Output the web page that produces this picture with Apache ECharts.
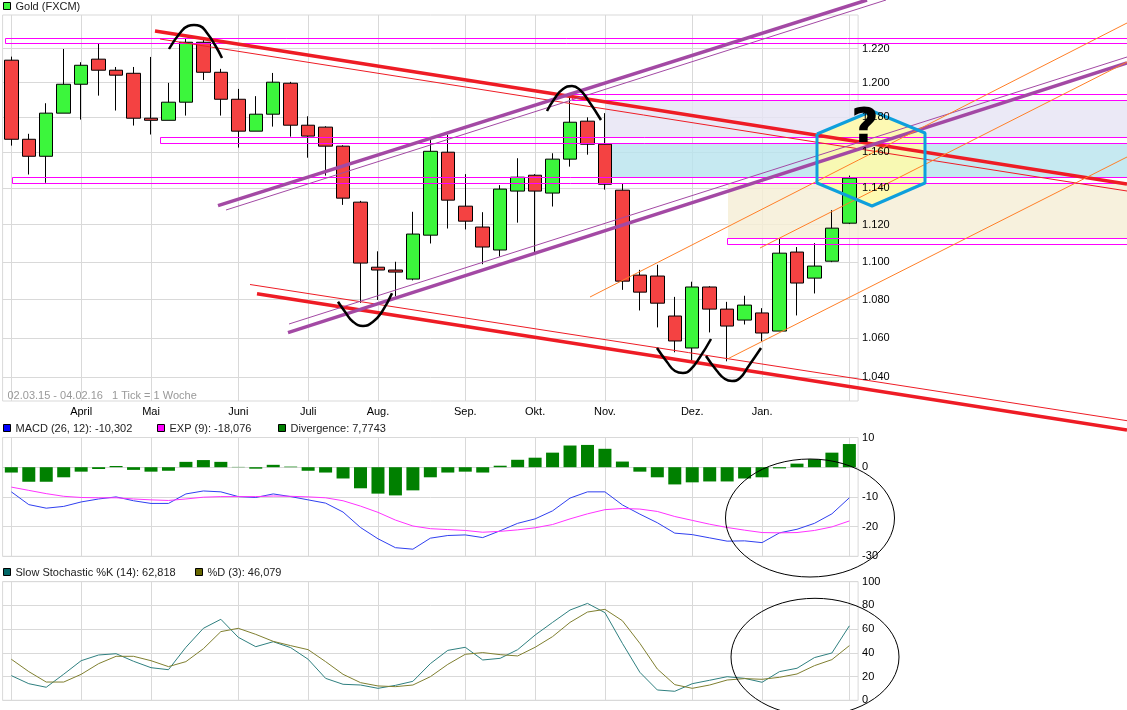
<!DOCTYPE html>
<html>
<head>
<meta charset="utf-8">
<title>Gold (FXCM)</title>
<script src="https://cdn.jsdelivr.net/npm/echarts@6/dist/echarts.min.js"></script>
<style>
  html, body { margin: 0; padding: 0; background: #fff; }
  #chart { width: 1127px; height: 710px; }
</style>
</head>
<body>
<div id="chart"></div>
<script>
/* 数据 */
var weeks = ['02.03.15','09.03.15','16.03.15','23.03.15','30.03.15','06.04.15','13.04.15','20.04.15','27.04.15','04.05.15',
  '11.05.15','18.05.15','25.05.15','01.06.15','08.06.15','15.06.15','22.06.15','29.06.15','06.07.15','13.07.15',
  '20.07.15','27.07.15','03.08.15','10.08.15','17.08.15','24.08.15','31.08.15','07.09.15','14.09.15','21.09.15',
  '28.09.15','05.10.15','12.10.15','19.10.15','26.10.15','02.11.15','09.11.15','16.11.15','23.11.15','30.11.15',
  '07.12.15','14.12.15','21.12.15','28.12.15','04.01.16','11.01.16','18.01.16','25.01.16','01.02.16'];
var monthIndex = [4, 8, 13, 17, 21, 26, 30, 34, 39, 43];
var monthNames = ['April', 'Mai', 'Juni', 'Juli', 'Aug.', 'Sep.', 'Okt.', 'Nov.', 'Dez.', 'Jan.'];
var gridIndex = [0, 4, 8, 13, 17, 21, 26, 30, 34, 39, 43, 48];
var priceTicks = [1.04, 1.06, 1.08, 1.10, 1.12, 1.14, 1.16, 1.18, 1.20, 1.22];

// open, close, low, high
var candles = [
  [1.2131,1.1674,1.1638,1.2152],[1.1674,1.1578,1.1476,1.1705],[1.1578,1.1823,1.1430,1.1880],[1.1823,1.1990,1.1823,1.2197],
  [1.1990,1.2101,1.1786,1.2119],[1.2137,1.2072,1.1924,1.2227],[1.2072,1.2043,1.1838,1.2091],[1.2054,1.1794,1.1752,1.2091],
  [1.1794,1.1782,1.1701,1.2150],[1.1782,1.1886,1.1782,1.1998],[1.1886,1.2237,1.1809,1.2262],[1.2237,1.2060,1.2015,1.2256],
  [1.2060,1.1903,1.1809,1.2080],[1.1903,1.1720,1.1627,1.1963],[1.1720,1.1817,1.1720,1.1921],[1.1817,1.2002,1.1746,1.2056],
  [1.1996,1.1754,1.1689,1.2004],[1.1754,1.1692,1.1570,1.1805],[1.1743,1.1635,1.1470,1.1748],[1.1635,1.1345,1.1308,1.1640],
  [1.1323,1.0993,1.0783,1.1330],[1.0971,1.0956,1.0798,1.1056],[1.0956,1.0945,1.0816,1.1000],[1.0908,1.1149,1.0901,1.1270],
  [1.1143,1.1606,1.1098,1.1680],[1.1601,1.1334,1.1179,1.1699],[1.1301,1.1219,1.1174,1.1478],[1.1187,1.1079,1.0987,1.1268],
  [1.1063,1.1395,1.1028,1.1417],[1.1384,1.1461,1.1211,1.1567],[1.1472,1.1384,1.1052,1.1478],[1.1373,1.1562,1.1299,1.1595],
  [1.1562,1.1771,1.1520,1.1928],[1.1777,1.1646,1.1587,1.1799],[1.1646,1.1422,1.1392,1.1823],[1.1389,1.0897,1.0851,1.1426],
  [1.0929,1.0839,1.0743,1.0957],[1.0924,1.0781,1.0655,1.0984],[1.0714,1.0585,1.0527,1.0814],[1.0549,1.0866,1.0484,1.0894],
  [1.0866,1.0750,1.0629,1.0870],[1.0750,1.0662,1.0481,1.0788],[1.0693,1.0771,1.0670,1.0820],[1.0730,1.0626,1.0583,1.0755],
  [1.0636,1.1046,1.0636,1.1127],[1.1052,1.0887,1.0717,1.1079],[1.0913,1.0977,1.0832,1.1100],[1.1003,1.1181,1.0998,1.1279],
  [1.1208,1.1456,1.1203,1.1470]
];
var divergence = [-1.8,-4.9,-4.9,-3.4,-1.5,-0.6,0.4,-0.9,-1.5,-1.2,1.8,2.4,1.8,0.1,-0.5,0.8,0.2,-1.2,-1.8,-3.8,
  -7.1,-8.9,-9.5,-7.8,-3.4,-1.8,-1.5,-1.8,0.5,2.5,3.2,4.9,7.3,7.5,6.2,1.9,-1.5,-3.4,-5.8,-5.1,
  -4.8,-4.8,-3.8,-3.4,-0.4,1.2,2.7,4.9,7.8];
var macd = [-8.3,-12.6,-13.8,-13.2,-11.7,-10.7,-10,-11.3,-12.2,-12.2,-9,-8,-8.3,-9.9,-10.2,-9,-9.9,-11,-12.1,-15.1,
  -20.3,-24.1,-27.1,-27.6,-23.9,-23,-22.8,-23.7,-21.4,-18.9,-17.4,-14.7,-10.4,-8.3,-8.3,-12.7,-15.8,-18.7,-22.2,-22.7,
  -23.8,-24.9,-24.8,-25.4,-22.1,-20.9,-18.9,-15.7,-10.3];
var exp9 = [-6.7,-7.8,-8.9,-9.8,-10.2,-10.3,-10.3,-10.7,-11,-11.2,-10.7,-10.1,-9.9,-9.9,-9.9,-9.7,-9.8,-10,-10.3,-11.3,
  -13.1,-15.2,-17.8,-19.8,-20.7,-21,-21.3,-21.9,-21.6,-21.1,-20.4,-19.3,-17.4,-15.7,-14.3,-13.9,-14.1,-14.9,-16.6,-17.9,
  -19.2,-20.3,-21.2,-22,-22.1,-22,-21.3,-20.1,-18.1];
var stochK = [20.8,14,11,22,33.4,38.2,39.3,32.9,27.5,25.8,44.7,60.7,68.3,53.1,45.2,49.4,44.4,34.6,18.5,13.5,
  12.9,10.1,12.6,16,30.9,42.1,44.7,34,35.4,42.7,55,65.7,76.1,81.7,73.9,48,23.6,8.7,7.6,14,
  16.9,19.9,18.5,15.2,24.2,27,36,39.9,62.8];
var stochD = [34.6,24.2,15.4,15.4,21.9,30.9,37.1,37.1,33.4,28.4,32.6,43.5,57.9,60.7,55.6,49.7,46.1,42.7,32.6,21.9,
  14.9,12.1,11.5,12.9,19.9,30.3,38.8,40.2,38.5,37.4,44.7,53.7,65.7,74.4,76.7,67.1,48,26.4,13.2,10.1,
  12.9,17.1,18.3,17.7,19.4,22.2,29.2,34.3,46.1];

/* 手绘标注，画布坐标 */
var thickRed = [[[155,31],[1127,184]], [[257,293.7],[1127,430]]];
var thinRed = [[[160,39],[1127,191]], [[250,284.5],[1127,420.7]]];
var thickPurple = [[[218,205.7],[867,0]], [[288,332.7],[1127,63]]];
var thinPurple = [[[226,210],[886,0]], [[289,324],[1127,57]]];
var orangeLines = [[[590,297],[1127,23]], [[760,248],[1127,62]], [[728,358.7],[1127,157]]];
var arcs = [
  [[169,49],[180,33],[188,26],[194,25],[200,26],[207,33],[215,45],[222,58]],
  [[547,111],[555,98],[563,89],[572,86],[580,90],[588,100],[601,120]],
  [[338,301.7],[345,311.7],[353,321.7],[363,326],[373,321.7],[382,311.7],[392,293.3]],
  [[657,348],[667,362],[675,371],[683,373],[690,370],[700,357],[711,339]],
  [[706,356],[717,371],[725,379],[732,381],[740,378],[748,367],[761,348]]
];
var magentaBoxes = [[5.5,38.5,1140,43.5], [160.5,137.5,1140,143.5], [12.5,177.5,1140,183.5], [572.5,94.5,1140,100.5], [727.5,238.5,1140,244.5]];
var bands = [[606,100.5,1127,137.5], [612,143.5,1127,177.5], [728,183.5,1127,238.5]];
var bandColors = ['rgba(230,227,244,0.8)', 'rgba(184,228,238,0.8)', 'rgba(245,238,212,0.8)'];
var hexagon = [[817,134],[872,111],[925,133],[925,183],[872,206],[817,183],[817,134]];
var ellipses = [[810,518,84.5,59], [815,657,84,58.7]];

var myChart = echarts.init(document.getElementById('chart'));

function monthAxis(gridIdx, showLabel) {
  return {
    type: 'category',
    gridIndex: gridIdx,
    data: weeks,
    boundaryGap: true,
    axisLine: { show: false },
    axisTick: { show: false },
    axisLabel: {
      show: showLabel,
      color: '#000',
      fontFamily: 'Liberation Sans',
      fontSize: 11,
      margin: 3,
      padding: [2, 0, 0, 0],
      interval: function (index) { return monthIndex.indexOf(index) >= 0; },
      formatter: function (value, index) { return monthNames[monthIndex.indexOf(index)] || ''; }
    },
    splitLine: {
      show: true,
      alignWithLabel: true,
      interval: function (index) { return gridIndex.indexOf(index) >= 0; },
      lineStyle: { color: '#d9d9d9' }
    }
  };
}

function overlayLine(name, pts, color, width, smooth, z) {
  return {
    name: name,
    type: 'line',
    xAxisIndex: 3,
    yAxisIndex: 3,
    data: pts,
    symbol: 'none',
    smooth: smooth,
    silent: true,
    z: z,
    lineStyle: { color: color, width: width }
  };
}

function overlayShape(name, items, z, build) {
  return {
    name: name,
    type: 'custom',
    xAxisIndex: 3,
    yAxisIndex: 3,
    silent: true,
    z: z,
    data: items,
    encode: { x: 0, y: 1 },
    renderItem: function (params, api) { return build(items[params.dataIndex], params.dataIndex, api); }
  };
}

function boxShape(it, api) {
  var a = api.coord([it[0], it[1]]);
  var b = api.coord([it[2], it[3]]);
  return { x: a[0], y: a[1], width: b[0] - a[0], height: b[1] - a[1] };
}

var series = [];
// 价格区间
series.push(overlayShape('bands', bands, 1, function (it, i, api) {
  return { type: 'rect', shape: boxShape(it, api), style: { fill: bandColors[i] } };
}));
series.push(overlayShape('hexagon fill', [hexagon[0]], 1.5, function (it, i, api) {
  return {
    type: 'polygon',
    shape: { points: hexagon.map(function (p) { return api.coord(p); }) },
    style: { fill: 'rgba(255,251,170,0.88)' }
  };
}));
// K 线
series.push({
  name: 'Gold (FXCM)',
  type: 'candlestick',
  xAxisIndex: 0,
  yAxisIndex: 0,
  data: candles,
  barWidth: 14,
  z: 2,
  itemStyle: {
    color: '#3cf63c',
    color0: '#f44242',
    borderColor: '#000',
    borderColor0: '#000',
    borderWidth: 1
  }
});
// MACD
series.push({ name: 'Divergence', type: 'bar', xAxisIndex: 1, yAxisIndex: 1, data: divergence, barWidth: 13, itemStyle: { color: '#008000' } });
series.push({ name: 'MACD (26, 12)', type: 'line', xAxisIndex: 1, yAxisIndex: 1, data: macd, symbol: 'none', lineStyle: { color: '#2f3ff0', width: 1 } });
series.push({ name: 'EXP (9)', type: 'line', xAxisIndex: 1, yAxisIndex: 1, data: exp9, symbol: 'none', lineStyle: { color: '#ff33ff', width: 1 } });
// 随机指标
series.push({ name: 'Slow Stochastic %K (14)', type: 'line', xAxisIndex: 2, yAxisIndex: 2, data: stochK, symbol: 'none', lineStyle: { color: '#2f8080', width: 1 } });
series.push({ name: '%D (3)', type: 'line', xAxisIndex: 2, yAxisIndex: 2, data: stochD, symbol: 'none', lineStyle: { color: '#807f30', width: 1 } });
// 趋势线
series.push(overlayShape('magenta boxes', magentaBoxes, 3, function (it, i, api) {
  return { type: 'rect', shape: boxShape(it, api), style: { fill: null, stroke: '#ff00ff', lineWidth: 1 } };
}));
thinRed.forEach(function (l) { series.push(overlayLine('thin red', l, '#ee1c25', 1, false, 4)); });
thickRed.forEach(function (l) { series.push(overlayLine('thick red', l, '#ee1c25', 3.5, false, 4)); });
thinPurple.forEach(function (l) { series.push(overlayLine('thin purple', l, '#a349a4', 1, false, 4)); });
thickPurple.forEach(function (l) { series.push(overlayLine('thick purple', l, '#a349a4', 3.5, false, 4)); });
orangeLines.forEach(function (l) { series.push(overlayLine('orange', l, '#ff7f27', 1, false, 4)); });
arcs.forEach(function (l) { series.push(overlayLine('arc', l, '#000', 2.5, true, 5)); });
series.push(overlayLine('hexagon', hexagon, '#0e9fdc', 3, false, 5));
series.push(overlayShape('ellipses', ellipses, 5, function (it, i, api) {
  var c = api.coord([it[0], it[1]]);
  return { type: 'ellipse', shape: { cx: c[0], cy: c[1], rx: it[2], ry: it[3] }, style: { fill: null, stroke: '#000', lineWidth: 1 } };
}));

// 图例
function legendItem(x, y, color, text) {
  return [
    { type: 'rect', shape: { x: x + 0.5, y: y - 3.5, width: 7, height: 7 }, style: { fill: color, stroke: '#000', lineWidth: 1 } },
    { type: 'text', x: x + 12.5, y: y + 0.5, style: { text: text, fill: '#222', font: '11px "Liberation Sans"', textVerticalAlign: 'middle' } }
  ];
}
var graphics = [].concat(
  legendItem(3, 6, '#3cf63c', 'Gold (FXCM)'),
  legendItem(3, 428, '#0000ff', 'MACD (26, 12): -10,302'),
  legendItem(157, 428, '#ff00ff', 'EXP (9): -18,076'),
  legendItem(278, 428, '#008000', 'Divergence: 7,7743'),
  legendItem(3, 572, '#006666', 'Slow Stochastic %K (14): 62,818'),
  legendItem(195, 572, '#666600', '%D (3): 46,079'),
  [
    { type: 'text', x: 7.5, y: 395.5, z: 6, style: { text: '02.03.15 - 04.02.16   1 Tick = 1 Woche', fill: '#999', font: '11px "Liberation Sans"', textVerticalAlign: 'middle' } },
    { type: 'text', x: 865, y: 130, z: 10, style: { text: '?', fill: '#000', font: 'bold 48px "DejaVu Sans"', textAlign: 'center', textVerticalAlign: 'middle' } }
  ]
);

var valueLabel = { color: '#000', fontFamily: 'Liberation Sans', fontSize: 11, margin: 4, padding: [2, 0, 0, 0] };
var gridLine = { show: true, lineStyle: { color: '#d9d9d9' } };
var frame = { show: true, borderColor: '#d9d9d9', borderWidth: 1 };

var option = {
  animation: false,
  backgroundColor: '#fff',
  grid: [
    Object.assign({ left: 2.6, top: 15, width: 855.5, height: 386 }, frame),
    Object.assign({ left: 2.6, top: 437.5, width: 855.5, height: 118.8 }, frame),
    Object.assign({ left: 2.6, top: 581.7, width: 855.5, height: 118.6 }, frame),
    { left: 0, top: 0, width: 1127, height: 710, show: false }
  ],
  xAxis: [
    monthAxis(0, true),
    monthAxis(1, false),
    monthAxis(2, false),
    { type: 'value', gridIndex: 3, min: 0, max: 1127, show: false }
  ],
  yAxis: [
    {
      type: 'log', gridIndex: 0, position: 'right', min: 1.0281, max: 1.24, logBase: 10,
      axisLine: { show: false },
      axisTick: { show: false, customValues: priceTicks },
      axisLabel: { show: false, customValues: priceTicks },
      splitLine: gridLine
    },
    {
      type: 'value', gridIndex: 1, position: 'right', min: -30, max: 10, interval: 10,
      axisLine: { show: false }, axisTick: { show: false }, axisLabel: valueLabel, splitLine: gridLine
    },
    {
      type: 'value', gridIndex: 2, position: 'right', min: 0, max: 100, interval: 20,
      axisLine: { show: false }, axisTick: { show: false }, axisLabel: valueLabel, splitLine: gridLine
    },
    { type: 'value', gridIndex: 3, min: 0, max: 710, inverse: true, show: false },
    // 价格标签放在六边形上面，只画文字
    {
      type: 'log', gridIndex: 0, position: 'right', min: 1.0281, max: 1.24, logBase: 10, z: 6,
      axisLine: { show: false },
      axisTick: { show: false, customValues: priceTicks },
      axisLabel: Object.assign({ customValues: priceTicks, formatter: function (v) { return Number(v).toFixed(3); } }, valueLabel),
      splitLine: { show: false }
    }
  ],
  graphic: graphics,
  series: series
};
myChart.setOption(option);
window.addEventListener('resize', function () { myChart.resize(); });
</script>
</body>
</html>
